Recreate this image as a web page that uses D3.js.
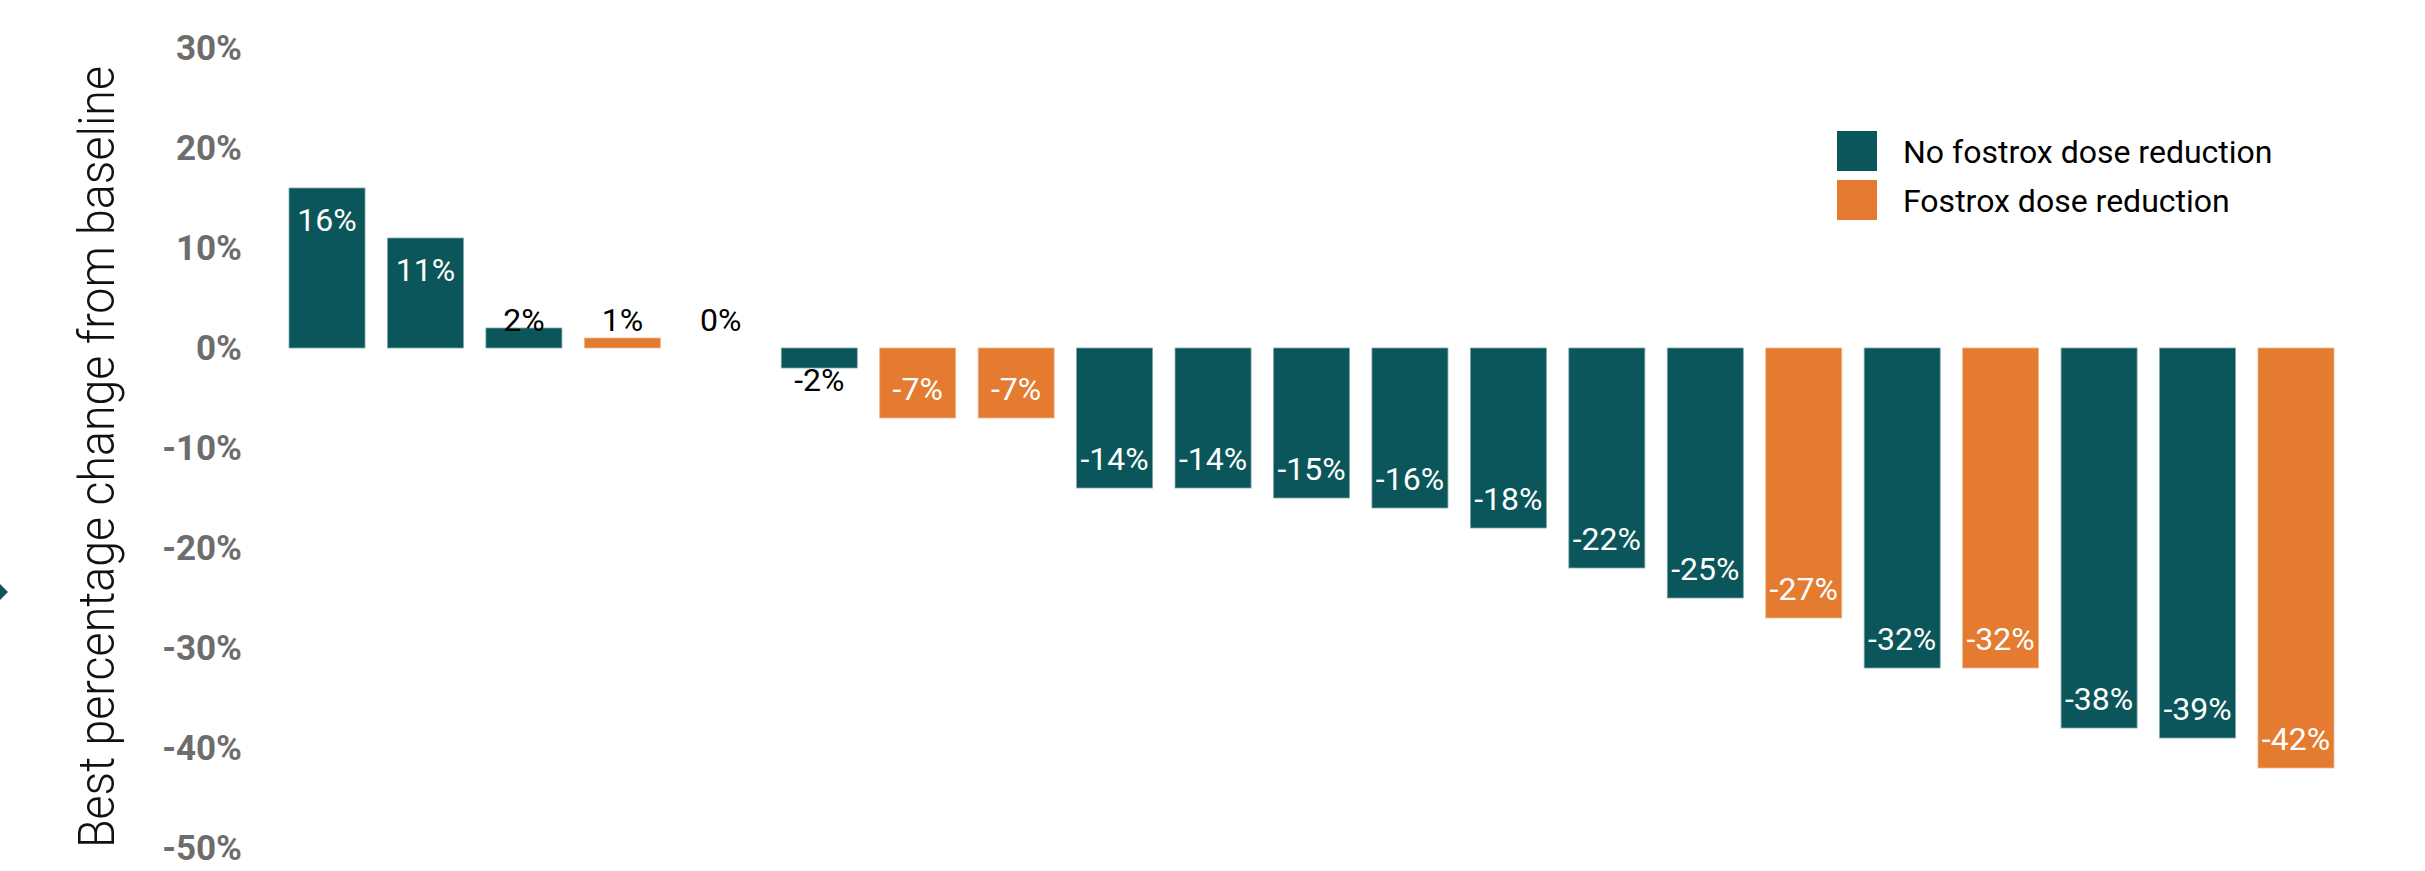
<!DOCTYPE html>
<html>
<head>
<meta charset="utf-8">
<script src="https://cdn.jsdelivr.net/npm/d3@7"></script>
<style>
  body { margin: 0; background: #fff; }
  svg { display: block; font-family: Roboto, sans-serif; }
</style>
</head>
<body>
<svg></svg>
<script>
// chart data
const patients = d3.range(1, 22).map(String)
const values = [16, 11, 2, 1, 0, -2, -7, -7, -14, -14, -15, -16, -18, -22, -25, -27, -32, -32, -38, -39, -42]
const doseReduced = [0, 0, 0, 1, 0, 0, 1, 1, 0, 0, 0, 0, 0, 0, 0, 1, 0, 1, 0, 0, 1]
const seriesNames = ['No fostrox dose reduction', 'Fostrox dose reduction']
const yTicks = [30, 20, 10, 0, -10, -20, -30, -40, -50]

const colors = ['#0a565a', '#e47b31']

// canvas size
const width = 2425
const height = 871

const svg = d3.select('svg')
  .attr('width', width)
  .attr('height', height)

const xScale = d3.scaleBand()
  .domain(patients)
  .range([277.8, 2345.2])
  .paddingInner(0.228)
  .paddingOuter(0.114)

const yScale = d3.scaleLinear()
  .domain([-50, 30])
  .range([848, 48])

// y axis, labels only
const yAxis = d3.axisLeft(yScale)
  .tickValues(yTicks)
  .tickSize(0)
  .tickPadding(0)
  .tickFormat(d => d + '%')

const yAxisG = svg.append('g')
  .attr('id', 'y-axis')
  .attr('transform', 'translate(242, 0)')
  .call(yAxis)
yAxisG.select('.domain').remove()
yAxisG.selectAll('text')
  .attr('font-family', 'Roboto, sans-serif')
  .attr('font-size', 35)
  .attr('font-weight', 700)
  .attr('fill', '#6d6d6d')

// axis title
svg.append('text')
  .attr('transform', 'translate(114, 457) rotate(-90)')
  .attr('text-anchor', 'middle')
  .attr('font-size', 50)
  .attr('font-weight', 300)
  .attr('fill', '#111')
  .attr('textLength', 782)
  .attr('lengthAdjust', 'spacingAndGlyphs')
  .text('Best percentage change from baseline')

// small marker at the left edge
svg.append('path')
  .attr('d', 'M0,584 L8,592 L0,600 Z')
  .attr('fill', colors[0])

const y0 = yScale(0)

svg.selectAll('rect.bar')
  .data(values)
  .enter()
  .append('rect')
  .attr('class', 'bar')
  .attr('x', (d, i) => xScale(patients[i]))
  .attr('width', xScale.bandwidth())
  .attr('y', d => Math.min(yScale(d), y0))
  .attr('height', d => Math.abs(yScale(d) - y0))
  .attr('fill', (d, i) => colors[doseReduced[i]])
  .attr('stroke', (d, i) => doseReduced[i] ? '#f0b68c' : '#7fa6a8')
  .attr('stroke-width', d => d === 0 ? 0 : 0.8)

// value labels: inside end, pushed outside when the bar is too short
function labelY (d) {
  if (d > 0) return Math.min(yScale(d) + 31, y0 - 29)
  if (d < 0) return Math.max(yScale(d) - 30, y0 + 31)
  return y0 - 29
}
function fitsInside (d) {
  return Math.abs(yScale(d) - y0) >= 55
}

svg.selectAll('text.value')
  .data(values)
  .enter()
  .append('text')
  .attr('class', 'value')
  .attr('x', (d, i) => xScale(patients[i]) + xScale.bandwidth() / 2)
  .attr('y', d => labelY(d))
  .attr('dy', '0.36em')
  .attr('text-anchor', 'middle')
  .attr('font-size', 32)
  .attr('fill', d => fitsInside(d) ? '#fff' : '#000')
  .text(d => d + '%')

// legend
const legend = svg.append('g')
  .attr('transform', 'translate(1837, 131)')

const items = legend.selectAll('g')
  .data(seriesNames)
  .enter()
  .append('g')
  .attr('transform', (d, i) => 'translate(0,' + (i * 49) + ')')

items.append('rect')
  .attr('width', 40)
  .attr('height', 40)
  .attr('fill', (d, i) => colors[i])

items.append('text')
  .attr('x', 66)
  .attr('y', 21)
  .attr('dy', '0.35em')
  .attr('font-size', 32)
  .attr('fill', '#000')
  .text(d => d)
</script>
</body>
</html>
